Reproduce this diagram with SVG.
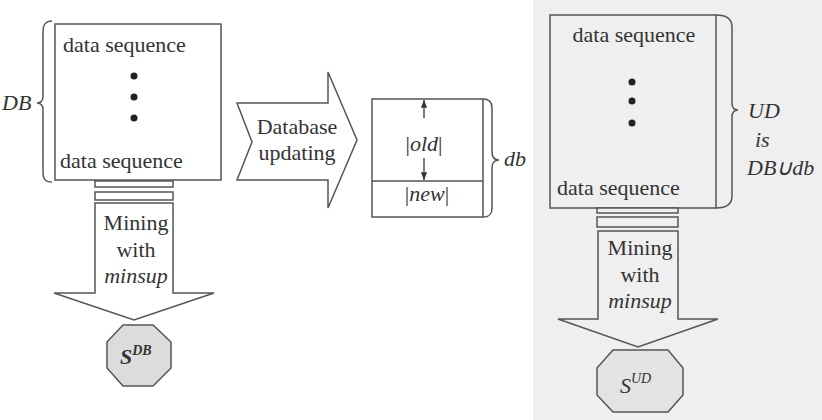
<svg xmlns="http://www.w3.org/2000/svg" width="822" height="420" viewBox="0 0 822 420">
<style>
.ln{fill:none;stroke:#555;stroke-width:1.5}
.bx{fill:#fff;stroke:#555;stroke-width:1.5}
.gb{fill:#efefef;stroke:#555;stroke-width:1.5}
.t{font-family:'Liberation Serif','Times New Roman',serif;font-size:22px;fill:#333}
.i{font-style:italic}
.c{text-anchor:middle}
.dot{fill:#222}
.oct{stroke:#555;stroke-width:1.5}
</style>
<defs>
<marker id="ah" viewBox="0 0 10 10" refX="10" refY="5" markerWidth="6" markerHeight="6" orient="auto">
<path d="M0,1 L10,5 L0,9 Z" fill="#333"/>
</marker>
</defs>
<rect x="533" y="0" width="289" height="420" fill="#efefef"/>

<g id="db-left">
<rect class="bx" x="55" y="24" width="166" height="156"/>
<text class="t" x="63" y="52">data sequence</text>
<circle class="dot" cx="134" cy="76" r="3.5"/>
<circle class="dot" cx="134" cy="97" r="3.5"/>
<circle class="dot" cx="134" cy="118" r="3.5"/>
<text class="t" x="60" y="168">data sequence</text>
<path class="ln" d="M52,21 C45,21 43,25 43,32 V96 C43,100 41,103 37,103 C41,103 43,106 43,110 V172 C43,179 45,182 52,182"/>
<text class="t i" x="2" y="110">DB</text>
</g>

<g id="mining-left">
<rect class="bx" x="95" y="181" width="78" height="6"/>
<rect class="bx" x="95" y="192" width="78" height="8"/>
<path class="bx" d="M95,203 H173 V293 H214 L134,320 L54,293 H95 Z"/>
<text class="t c" x="136" y="230">Mining</text>
<text class="t c" x="136" y="257">with</text>
<text class="t c i" x="136" y="283">minsup</text>
</g>

<g id="sdb">
<polygon class="oct" points="123,325 153,325 171,342 171,368 153,386 123,386 107,368 107,342" fill="#dcdcdc"/>
<text class="t i" x="120" y="364" font-weight="bold" font-size="27">S<tspan font-size="14" dy="-9">DB</tspan></text>
</g>

<g id="update">
<path class="bx" d="M237,103 H328 V72 L357,140 L328,208 V180 H237 L252,142 Z"/>
<text class="t c" x="297" y="134">Database</text>
<text class="t c" x="297" y="160">updating</text>
</g>

<g id="db-small">
<rect class="bx" x="372" y="99" width="111" height="118"/>
<line class="ln" x1="372" y1="181" x2="483" y2="181"/>
<line x1="424" y1="118" x2="424" y2="100" stroke="#333" stroke-width="1.3" marker-end="url(#ah)"/>
<line x1="424" y1="158" x2="424" y2="180" stroke="#333" stroke-width="1.3" marker-end="url(#ah)"/>
<text class="t c" x="424" y="151" font-size="20">|<tspan class="i">old</tspan>|</text>
<text class="t c" x="427" y="201" font-size="20">|<tspan class="i">new</tspan>|</text>
<path class="ln" d="M483,99 C490,99 492,103 492,108 V152 C492,157 494,160 499,160 C494,160 492,163 492,168 V208 C492,214 490,217 483,217"/>
<text class="t i" x="504" y="166">db</text>
</g>

<g id="ud">
<rect class="gb" x="550" y="15" width="166" height="193"/>
<text class="t c" x="634" y="42">data sequence</text>
<circle class="dot" cx="632" cy="82" r="3.5"/>
<circle class="dot" cx="632" cy="101" r="3.5"/>
<circle class="dot" cx="632" cy="123" r="3.5"/>
<text class="t" x="557" y="195">data sequence</text>
<path class="ln" d="M716,15 C726,15 732,19 732,27 V103 C732,108 734,110 738,110 C734,110 732,112 732,117 V196 C732,204 726,208 716,208"/>
<text class="t i" x="748" y="118">UD</text>
<text class="t i" x="755" y="147">is</text>
<text class="t i" x="747" y="175">DB∪db</text>
</g>

<g id="mining-right">
<rect class="gb" x="597" y="208" width="81" height="5"/>
<rect class="gb" x="597" y="217" width="81" height="10"/>
<path class="gb" d="M598,231 H678 V319 H718 L638,347 L558,319 H598 Z"/>
<text class="t c" x="640" y="255">Mining</text>
<text class="t c" x="640" y="282">with</text>
<text class="t c i" x="640" y="308">minsup</text>
</g>

<g id="sud">
<polygon class="oct" points="613,350 668,350 683,368 683,395 668,412 613,412 597,395 597,368" fill="#e3e3e3"/>
<text class="t i" x="620" y="393" font-size="27">S<tspan font-size="14" dy="-10">UD</tspan></text>
</g>
</svg>
